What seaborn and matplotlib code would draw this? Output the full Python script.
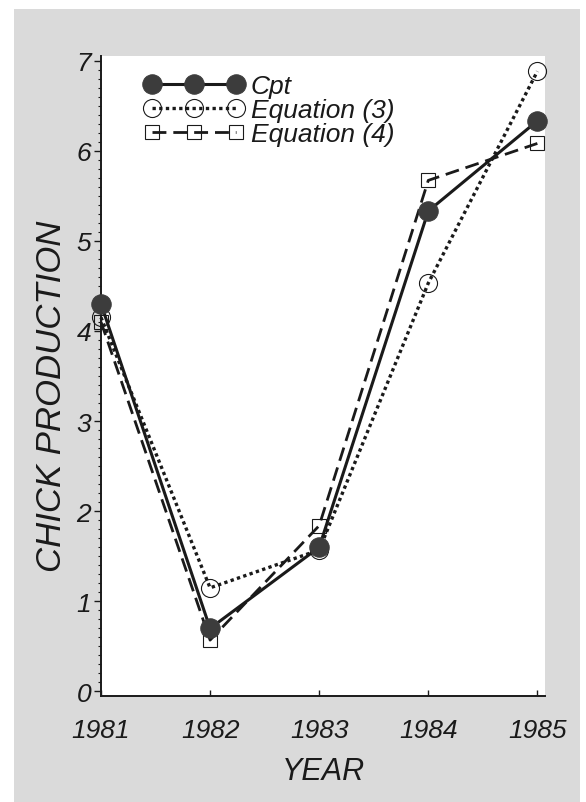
import numpy as np
import pandas as pd
import seaborn as sns
import matplotlib.pyplot as plt
from matplotlib.patches import Rectangle
from matplotlib.ticker import MultipleLocator

# data
years = [1981, 1982, 1983, 1984, 1985]
cpt = [4.30, 0.70, 1.60, 5.33, 6.33]
eq3 = [4.15, 1.15, 1.57, 4.53, 6.88]
eq4 = [4.10, 0.57, 1.84, 5.67, 6.08]

sns.set_style('white')
plt.rcParams['font.family'] = ['Liberation Sans', 'DejaVu Sans']

ink = '#1a1a1a'

fig = plt.figure(figsize=(5.86, 8.03), dpi=100)
fig.patch.set_facecolor('white')
# gray card behind the plot
fig.patches.append(Rectangle((14/586, 0), (580-14)/586, (803-10)/803,
                             transform=fig.transFigure, facecolor='#dadada',
                             edgecolor='none', zorder=-5))

ax = fig.add_axes([101/586, 106/803, (545-101)/586, (697-57)/803])
ax.set_zorder(2)
ax.set_facecolor('white')

sns.lineplot(x=years, y=cpt, ax=ax, color=ink, linewidth=2.2,
             marker='o', markersize=14, markerfacecolor='#3c3c3c',
             markeredgecolor='#3c3c3c', label='Cpt', clip_on=False, zorder=4)
sns.lineplot(x=years, y=eq3, ax=ax, color=ink, linewidth=2.4,
             linestyle=(0, (1, 1)), marker='o', markersize=13,
             markerfacecolor='none', markeredgecolor=ink,
             markeredgewidth=0.8, label='Equation (3)',
             clip_on=False, zorder=3)
sns.lineplot(x=years, y=eq4, ax=ax, color=ink, linewidth=2.0,
             linestyle=(0, (5, 2.5)), marker='s', markersize=10,
             markerfacecolor='none', markeredgecolor=ink,
             markeredgewidth=0.8, label='Equation (4)',
             clip_on=False, zorder=3)

ax.set_xlim(1981, 1985.07)
ax.set_ylim(-0.05, 7.05)
ax.set_xticks(years)
ax.set_yticks(range(0, 8))
ax.yaxis.set_minor_locator(MultipleLocator(0.1))

for s in ['top', 'right']:
    ax.spines[s].set_visible(False)
for s in ['left', 'bottom']:
    ax.spines[s].set_color(ink)
    ax.spines[s].set_linewidth(1.4)

ax.tick_params(axis='y', which='major', direction='out', length=5, width=1,
               left=True, labelsize=19, colors=ink, pad=2)
ax.tick_params(axis='y', which='minor', direction='out', length=2.5,
               width=0.8, left=True, colors=ink)
ax.tick_params(axis='x', which='major', direction='in', length=4, width=1,
               bottom=True, labelsize=19, colors=ink, pad=16)
for lab in ax.get_xticklabels() + ax.get_yticklabels():
    lab.set_fontstyle('italic')

ax.set_xlabel('YEAR', fontsize=22, fontstyle='italic', color=ink,
              labelpad=10)
ax.set_ylabel('CHICK PRODUCTION', fontsize=25, fontstyle='italic',
              color=ink)
ax.yaxis.set_label_coords(-0.075, 0.47)

leg = ax.legend(loc='upper left', bbox_to_anchor=(0.055, 1.0), frameon=False,
                numpoints=3, handlelength=3.8, handletextpad=0.25,
                labelspacing=0.0, borderaxespad=0.3,
                prop={'size': 19, 'style': 'italic'})
for t in leg.get_texts():
    t.set_color(ink)

fig.savefig('out.png', dpi=100, facecolor=fig.get_facecolor())
